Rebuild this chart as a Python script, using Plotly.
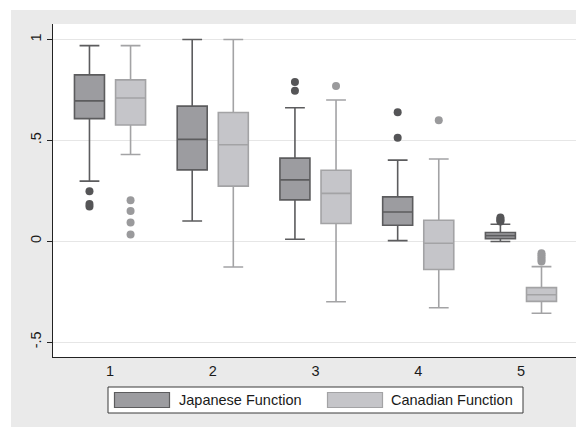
import plotly.graph_objects as go

# ---------------- data ----------------
groups = [1, 2, 3, 4, 5]
series_names = ["Japanese Function", "Canadian Function"]

jp_lower = [0.298, 0.100, 0.010, 0.003, -0.001]
jp_q1 = [0.608, 0.354, 0.205, 0.079, 0.013]
jp_median = [0.696, 0.505, 0.304, 0.145, 0.028]
jp_q3 = [0.825, 0.670, 0.412, 0.220, 0.043]
jp_upper = [0.970, 1.000, 0.662, 0.402, 0.084]
jp_outliers = [[0.248, 0.185, 0.172], [], [0.790, 0.746], [0.639, 0.513],
               [0.118, 0.110, 0.104, 0.098]]

ca_lower = [0.430, -0.128, -0.300, -0.330, -0.357]
ca_q1 = [0.576, 0.273, 0.088, -0.140, -0.298]
ca_median = [0.710, 0.478, 0.237, -0.010, -0.265]
ca_q3 = [0.800, 0.638, 0.352, 0.104, -0.230]
ca_upper = [0.970, 1.000, 0.700, 0.408, -0.126]
ca_outliers = [[0.203, 0.150, 0.093, 0.033], [], [0.769], [0.600],
               [-0.060, -0.070, -0.080, -0.090, -0.100]]

y_tickvals = [-0.5, 0, 0.5, 1]
y_ticktext = ["-.5", "0", ".5", "1"]

# ---------------- style ----------------
OFF = 8  # page body margin of the html page
PAGE_W, PAGE_H = 584, 427
W, H = PAGE_W - OFF, PAGE_H - OFF
# plot area on the page: x 53..579, y 24..357
ML, MT = 53 - OFF, 24 - OFF
MR, MB = PAGE_W - 579, PAGE_H - 357
PW, PH = W - ML - MR, H - MT - MB

jp_fill, jp_line, jp_pt = "#9c9ca0", "#5c5c5e", "#555557"
ca_fill, ca_line, ca_pt = "#c5c5c9", "#a3a3a5", "#9a9a9c"
FONT = "Liberation Sans, Arial, sans-serif"


def px(xp):  # page x pixel -> paper fraction
    return (xp - OFF - ML) / PW


def py(yp):  # page y pixel -> paper fraction
    return (H - MB - (yp - OFF)) / PH


fig = go.Figure()
for name, lo, q1, med, q3, up, outl, fill, line, pt in [
    (series_names[0], jp_lower, jp_q1, jp_median, jp_q3, jp_upper, jp_outliers, jp_fill, jp_line, jp_pt),
    (series_names[1], ca_lower, ca_q1, ca_median, ca_q3, ca_upper, ca_outliers, ca_fill, ca_line, ca_pt),
]:
    fig.add_trace(go.Box(
        name=name, x=groups, q1=q1, median=med, q3=q3,
        lowerfence=lo, upperfence=up, y=outl,
        boxpoints="outliers", jitter=0, pointpos=0,
        fillcolor=fill, line=dict(color=line, width=1.6),
        marker=dict(color=pt, size=8, line=dict(width=0)),
        whiskerwidth=0.66, showlegend=False,
    ))

shapes = [
    # white page margin strips (gray graph region starts at page x=11, y=10)
    dict(type="rect", xref="paper", yref="paper", x0=px(OFF), x1=px(11), y0=py(PAGE_H), y1=py(OFF),
         fillcolor="white", line=dict(width=0), layer="below"),
    dict(type="rect", xref="paper", yref="paper", x0=px(OFF), x1=px(PAGE_W), y0=py(10), y1=py(OFF),
         fillcolor="white", line=dict(width=0), layer="below"),
    # legend frame
    dict(type="rect", xref="paper", yref="paper", x0=px(108), x1=px(523), y0=py(413), y1=py(387),
         fillcolor="white", line=dict(color="#3a3a3a", width=1)),
    dict(type="rect", xref="paper", yref="paper", x0=px(114.5), x1=px(169.5), y0=py(407.5), y1=py(392.5),
         fillcolor=jp_fill, line=dict(color=jp_line, width=1.2)),
    dict(type="rect", xref="paper", yref="paper", x0=px(327.5), x1=px(382.5), y0=py(407.5), y1=py(392.5),
         fillcolor=ca_fill, line=dict(color=ca_line, width=1.2)),
]
annotations = [
    dict(xref="paper", yref="paper", x=px(177), y=py(400), xanchor="left", yanchor="middle",
         text=series_names[0], showarrow=False, font=dict(size=14.5, color="#1a1a1a", family=FONT)),
    dict(xref="paper", yref="paper", x=px(389.5), y=py(400), xanchor="left", yanchor="middle",
         text=series_names[1], showarrow=False, font=dict(size=14.5, color="#1a1a1a", family=FONT)),
]

fig.update_layout(
    width=W, height=H,
    margin=dict(l=ML, r=MR, t=MT, b=MB, pad=0),
    paper_bgcolor="#eaeaea", plot_bgcolor="white",
    boxmode="group", boxgap=0.2, boxgroupgap=0.27,
    font=dict(family=FONT, size=14, color="#1a1a1a"),
    shapes=shapes, annotations=annotations,
    xaxis=dict(range=[0.445, 5.565], tickvals=groups, ticktext=[str(g) for g in groups],
               showgrid=False, zeroline=False, showline=True, linecolor="#222222", linewidth=1.2,
               ticks="", ticklen=0, tickfont=dict(size=14.5)),
    yaxis=dict(range=[-0.574, 1.077], tickvals=y_tickvals, ticktext=y_ticktext,
               showgrid=True, gridcolor="#e6e6e6", gridwidth=1, zeroline=False,
               showline=True, linecolor="#222222", linewidth=1.2,
               ticks="outside", ticklen=5, tickcolor="#222222", tickangle=-90,
               tickfont=dict(size=14.5)),
)

fig.write_html("out.html")
